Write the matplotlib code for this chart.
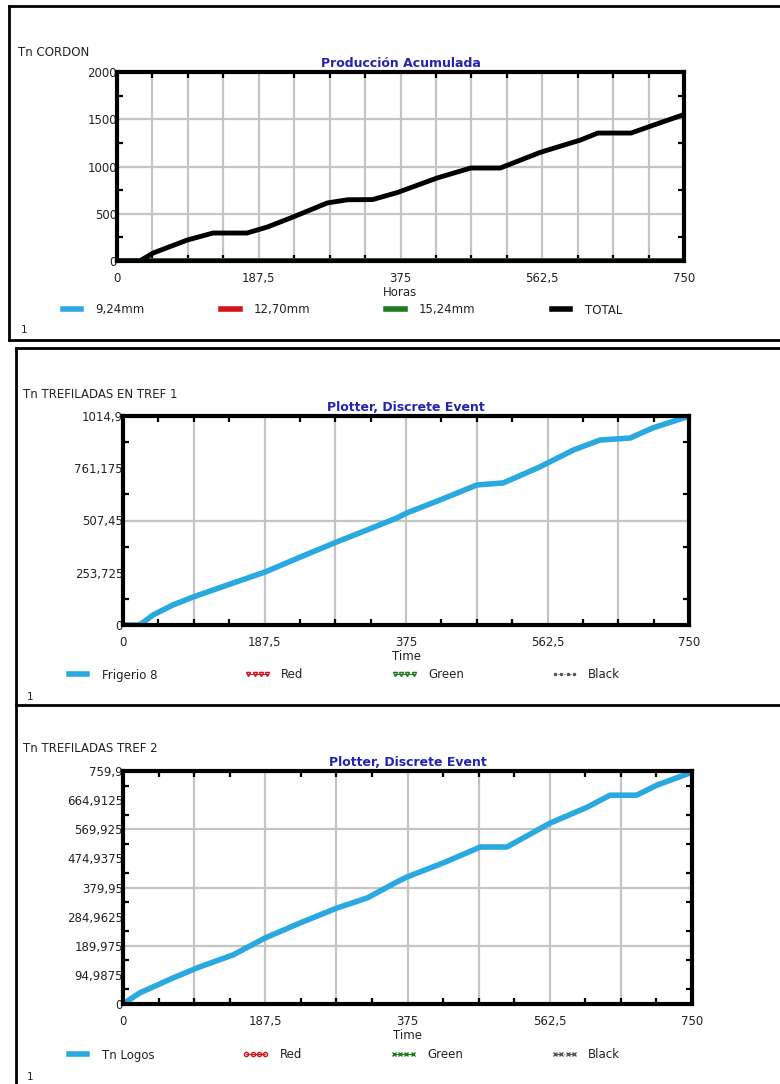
import matplotlib
matplotlib.use('Agg')
import matplotlib.pyplot as plt
from matplotlib.lines import Line2D
from matplotlib.ticker import FixedLocator, FuncFormatter
import numpy as np

# --- data read off the three plotter windows ---
# panel 1: produccion acumulada (Tn CORDON vs Horas)
t_total = [0, 30, 48, 93, 127, 172, 199, 233, 278, 305, 338, 371, 424, 468, 507,
           560, 613, 636, 680, 710, 750]
tn_total = [0, 0, 85, 222, 296, 296, 360, 466, 614, 648, 650, 725, 880, 984, 984,
            1150, 1280, 1354, 1354, 1439, 1550]
t_diam = [0, 750]
tn_924 = [0, 0]
tn_1270 = [0, 0]
tn_1524 = [0, 0]
diam_labels = ['9,24mm', '12,70mm', '15,24mm', 'TOTAL']

# panel 2: Tn trefiladas en tref 1 (Frigerio 8)
t_tref1 = [0, 22, 40, 66, 93, 146, 188, 235, 283, 323, 363, 376, 420, 469, 504,
           552, 597, 632, 672, 702, 747, 750]
tn_tref1 = [0, 0, 49, 97, 136, 204, 257, 330, 403, 461, 520, 544, 607, 680, 690,
            767, 850, 898, 908, 957, 1010, 1014.9]

# panel 3: Tn trefiladas tref 2 (Tn Logos)
t_tref2 = [0, 22, 66, 101, 145, 187, 233, 282, 322, 361, 374, 422, 471, 506,
           563, 612, 642, 677, 704, 750]
tn_tref2 = [0, 36, 85, 121, 160, 215, 264, 313, 346, 398, 414, 460, 512, 512,
            590, 642, 681, 681, 714, 756]

ymax = [2000, 1014.9, 759.9]
ylabels = ['Tn CORDON', 'Tn TREFILADAS EN TREF 1', 'Tn TREFILADAS TREF 2']
titles = ['Producción Acumulada', 'Plotter, Discrete Event', 'Plotter, Discrete Event']
xlabels = ['Horas', 'Time', 'Time']

# plot settings
W, H = 780, 1084
fs = 8.5
c_txt = '#222222'
c_blue = '#2aa8e0'
c_red = '#d4141c'
c_green = '#1f7a1f'
c_title = '#2323b4'

fig = plt.figure(figsize=(W / 100, H / 100), dpi=100)
plt.rcParams['font.family'] = ['DejaVu Sans']


def px(x0, y0, x1, y1):
    # pixel box (top-left origin) -> figure fraction rect
    return [x0 / W, 1 - y1 / H, (x1 - x0) / W, (y1 - y0) / H]


def comma_fmt(v, pos):
    s = ('%.4f' % v).rstrip('0').rstrip('.')
    return s.replace('.', ',')


def setup_axes(ax, ytop, nx_grid, ny_lab, ny_grid, top_col):
    ax.set_xlim(0, 750)
    ax.set_ylim(0, ytop)
    xlab = np.linspace(0, 750, 5)
    ylab = np.linspace(0, ytop, ny_lab + 1)
    ax.xaxis.set_major_locator(FixedLocator(xlab))
    ax.yaxis.set_major_locator(FixedLocator(ylab))
    ax.xaxis.set_major_formatter(FuncFormatter(comma_fmt))
    ax.yaxis.set_major_formatter(FuncFormatter(comma_fmt))
    ax.xaxis.set_minor_locator(FixedLocator(np.linspace(0, 750, 17)))
    ax.yaxis.set_minor_locator(FixedLocator(np.linspace(0, ytop, 2 * ny_lab + 1)))
    ax.tick_params(which='major', length=0, labelsize=fs, colors=c_txt)
    ax.tick_params(axis='x', which='major', pad=8)
    ax.tick_params(axis='y', which='major', pad=0)
    ax.tick_params(which='minor', direction='in', length=4, width=1.6,
                   top=True, right=True, color='black')
    for tk in ax.xaxis.get_minor_ticks():
        tk.tick2line.set_color(top_col)
    # grid lines
    for gx in np.linspace(0, 750, nx_grid + 1)[1:-1]:
        ax.axvline(gx, color='#c4c4c4', lw=1.6, zorder=0)
    for gy in np.linspace(0, ytop, ny_grid + 1)[1:-1]:
        ax.axhline(gy, color='#c4c4c4', lw=1.6, zorder=0)
    for sp in ax.spines.values():
        sp.set_linewidth(3)
        sp.set_color('black')
        sp.set_zorder(5)


# --- panel 1 ---
ax1 = fig.add_axes(px(117, 72, 684, 261))
setup_axes(ax1, ymax[0], 16, 4, 4, c_green)
ax1.plot(t_diam, tn_924, color=c_blue, lw=5)
ax1.plot(t_diam, tn_1270, color=c_red, lw=5)
ax1.plot(t_diam, tn_1524, color=c_green, lw=5)
ax1.plot(t_total, tn_total, color='black', lw=3.5, zorder=4)
h1 = [Line2D([], [], color=c, lw=4) for c in [c_blue, c_red, c_green, 'black']]

# --- panel 2 ---
ax2 = fig.add_axes(px(123, 416, 689, 625))
setup_axes(ax2, ymax[1], 8, 4, 2, '#1a5a1a')
ax2.plot(t_tref1, tn_tref1, color=c_blue, lw=4)
h2 = [Line2D([], [], color=c_blue, lw=4),
      Line2D([], [], color=c_red, lw=0.8, marker='v', ms=3, mfc='none'),
      Line2D([], [], color=c_green, lw=0.8, marker='v', ms=3, mfc='none'),
      Line2D([], [], color='#555555', lw=0.8, ls=':', marker='.', ms=3)]

# --- panel 3 ---
ax3 = fig.add_axes(px(123, 771, 692, 1004))
setup_axes(ax3, ymax[2], 8, 8, 4, 'black')
ax3.plot(t_tref2, tn_tref2, color=c_blue, lw=4)
h3 = [Line2D([], [], color=c_blue, lw=4),
      Line2D([], [], color=c_red, lw=0.8, marker='o', ms=3, mfc='none'),
      Line2D([], [], color=c_green, lw=0.8, marker='x', ms=3),
      Line2D([], [], color='#555555', lw=0.8, ls='-.', marker='x', ms=3)]

leg_labels = [diam_labels,
              ['Frigerio 8', 'Red', 'Green', 'Black'],
              ['Tn Logos', 'Red', 'Green', 'Black']]
leg_pos = [(59, 622, 310), (65, 620, 675), (65, 620, 1055)]
ylab_pos = [(18, 52), (23, 395), (23, 749)]
one_pos = [(21, 330), (27, 697), (27, 1077)]

for i, (ax, hd) in enumerate(zip([ax1, ax2, ax3], [h1, h2, h3])):
    ax.set_title(titles[i], color=c_title, fontsize=9, fontweight='bold', pad=3.5)
    ax.set_xlabel(xlabels[i], fontsize=fs, color=c_txt, labelpad=0.5)
    x0, x1, yc = leg_pos[i]
    fig.legend(hd, leg_labels[i], loc='center', ncol=4, mode='expand',
               bbox_to_anchor=(x0 / W, 1 - (yc + 8) / H, (x1 - x0) / W, 16 / H),
               bbox_transform=fig.transFigure, frameon=False, fontsize=fs,
               handlelength=2.2, handletextpad=0.9, borderpad=0, numpoints=4,
               borderaxespad=0)
    for t in fig.legends[-1].get_texts():
        t.set_color(c_txt)
    fig.text(ylab_pos[i][0] / W, 1 - ylab_pos[i][1] / H, ylabels[i], fontsize=8.5,
             color=c_txt, va='center')
    fig.text(one_pos[i][0] / W, 1 - one_pos[i][1] / H, '1', fontsize=7.5,
             color=c_txt, va='center')

# window frames
frames = [
    [(9, 6), (780, 6)], [(9, 6), (9, 340)], [(9, 340), (780, 340)],
    [(16, 348), (780, 348)], [(16, 348), (16, 1084)], [(16, 705), (780, 705)],
]
for (xa, ya), (xb, yb) in frames:
    fig.add_artist(Line2D([xa / W, xb / W], [1 - ya / H, 1 - yb / H],
                          color='black', lw=2, transform=fig.transFigure))

plt.savefig('out.png', dpi=100)
